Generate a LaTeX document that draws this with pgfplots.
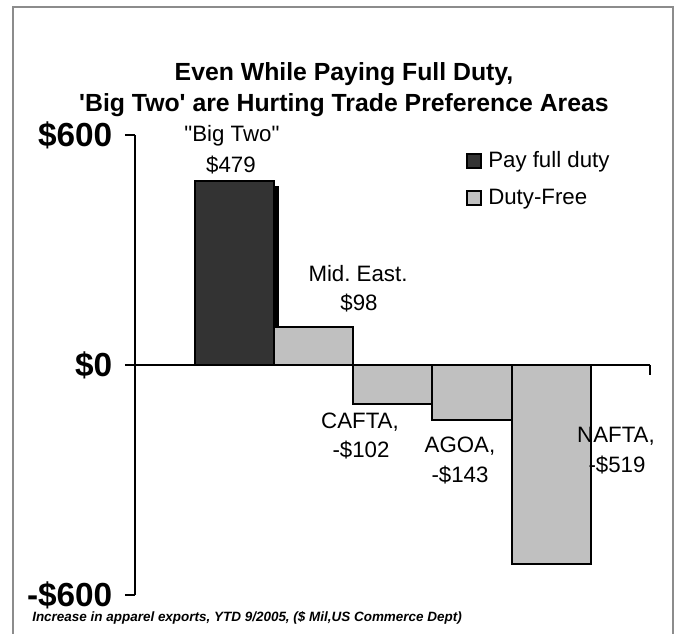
\documentclass[border=0pt]{standalone}
\usepackage{fontspec}
\setmainfont{Liberation Sans}
\newfontfamily\plainfont{Liberation Sans}
\usepackage{pgfplots}
\pgfplotsset{compat=1.18}
\definecolor{darkbar}{HTML}{333333}
\definecolor{lightbar}{HTML}{C0C0C0}
\definecolor{framegray}{HTML}{8C8C8C}
\newcommand{\lab}{\plainfont\fontsize{16.7}{19}\selectfont}
\frenchspacing

\begin{document}
\begin{tikzpicture}
\begin{axis}[
  at={(0pt,0pt)}, anchor=south west,
  scale only axis, width=386.25pt, height=345pt,
  xmin=-1.258, xmax=5.25, ymin=-600, ymax=600,
  axis y line=left, axis x line=middle,
  axis line style={-, line width=1.5pt},
  every outer y axis line/.append style={-},
  every inner x axis line/.append style={-},
  xtick=\empty, ytick={-600,0,600},
  yticklabels={-\$600,\$0,\$600},
  tick align=outside, major tick length=7.5pt,
  tick style={line width=1.5pt, black},
  yticklabel style={font=\fontsize{25}{30}\selectfont\bfseries, xshift=-6pt},
  clip=false,
]
% shadow of the "Big Two" bar
\addplot[ybar, bar width=1, bar shift=3.75pt, fill=black, draw=none] coordinates {(0,466)};
\addplot[ybar, bar width=1, fill=darkbar, draw=black, line width=1.5pt] coordinates {(0,479)};
\addplot[ybar, bar width=1, fill=lightbar, draw=black, line width=1.5pt]
  coordinates {(1,98) (2,-102) (3,-143) (4,-519)};
\draw[line width=1.5pt] (axis cs:5.25,0) -- ([yshift=-7.5pt]axis cs:5.25,0);
\end{axis}

% everything else in pixel units of the reference (y downwards)
\begin{scope}[x=0.75pt,y=-0.75pt,shift={(-135,-595)}, every node/.style={inner sep=0pt}]
  \draw[framegray, line width=1.5pt] (13,634) -- (13,7) -- (673,7) -- (673,634);
  % title
  \node[anchor=base, font=\plainfont\fontsize{18.6}{21}\selectfont\bfseries] at (344,81) {Even While Paying Full Duty,};
  \node[anchor=base, font=\plainfont\fontsize{18.6}{21}\selectfont\bfseries] at (344,112) {'Big Two' are Hurting Trade Preference Areas};
  % data labels
  \node[anchor=base, font=\lab] at (232,142) {"Big Two"};
  \node[anchor=base, font=\lab] at (231,173) {\$479};
  \node[anchor=base, font=\lab] at (358,282) {Mid. East.};
  \node[anchor=base, font=\lab] at (359,311) {\$98};
  \node[anchor=base, font=\lab] at (360,429) {CAFTA,};
  \node[anchor=base, font=\lab] at (361,458) {-\$102};
  \node[anchor=base, font=\lab] at (460,453) {AGOA,};
  \node[anchor=base, font=\lab] at (460,483) {-\$143};
  \node[anchor=base, font=\lab] at (616,443) {NAFTA,};
  \node[anchor=base, font=\lab] at (617,473) {-\$519};
  % legend
  \draw[fill=darkbar, line width=1.5pt] (467,154) rectangle (481,168);
  \node[anchor=base west, font=\lab] at (488,168) {Pay full duty};
  \draw[fill=lightbar, line width=1.5pt] (467,191) rectangle (481,205);
  \node[anchor=base west, font=\lab] at (488,205) {Duty-Free};
  % source note
  \node[anchor=base west, font=\plainfont\fontsize{10.1}{12}\selectfont\bfseries\itshape] at (32,622)
    {Increase in apparel exports, YTD 9/2005, (\$ Mil,US Commerce Dept)};
  \pgfresetboundingbox
  \path[use as bounding box] (0,0) rectangle (676,634);
\end{scope}
\end{tikzpicture}
\end{document}
